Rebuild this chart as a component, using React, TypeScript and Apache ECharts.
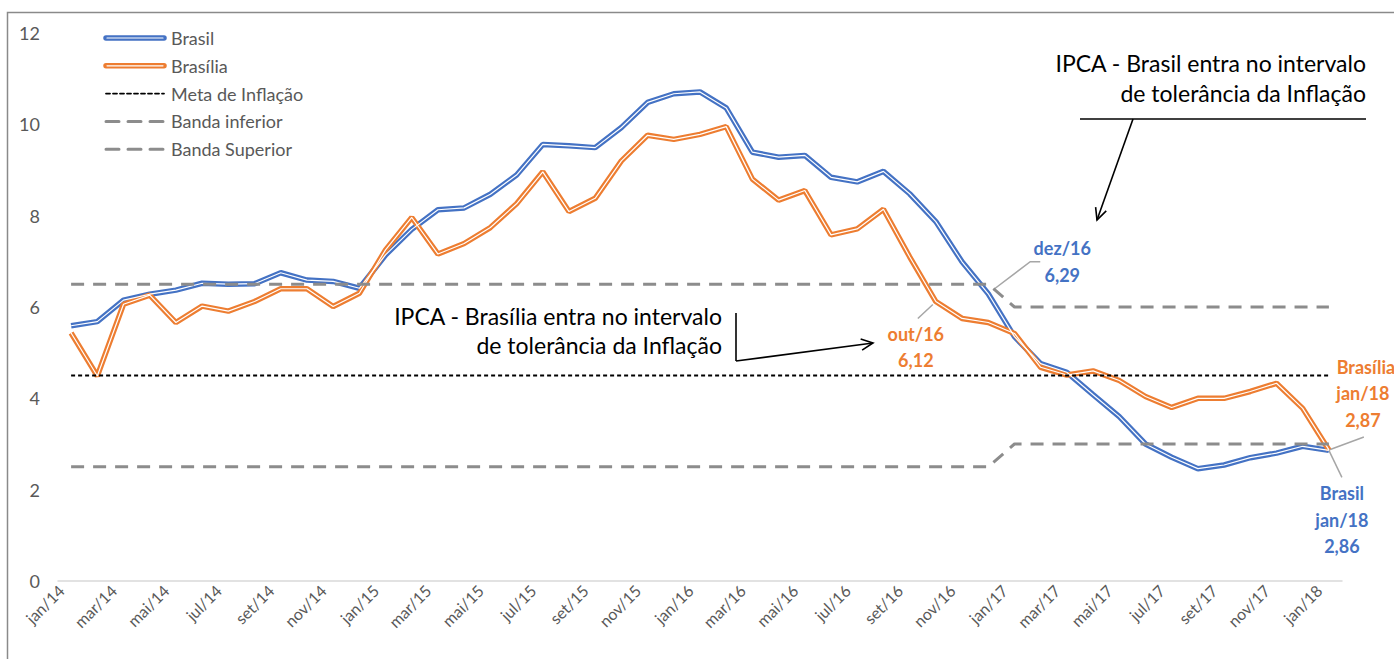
import React, { useEffect, useRef } from 'react';
import * as echarts from 'echarts';

const categories = [
  'jan/14', 'fev/14', 'mar/14', 'abr/14', 'mai/14', 'jun/14', 'jul/14', 'ago/14', 'set/14', 'out/14', 'nov/14', 'dez/14',
  'jan/15', 'fev/15', 'mar/15', 'abr/15', 'mai/15', 'jun/15', 'jul/15', 'ago/15', 'set/15', 'out/15', 'nov/15', 'dez/15',
  'jan/16', 'fev/16', 'mar/16', 'abr/16', 'mai/16', 'jun/16', 'jul/16', 'ago/16', 'set/16', 'out/16', 'nov/16', 'dez/16',
  'jan/17', 'fev/17', 'mar/17', 'abr/17', 'mai/17', 'jun/17', 'jul/17', 'ago/17', 'set/17', 'out/17', 'nov/17', 'dez/17',
  'jan/18',
];

const brasil = [
  5.59, 5.68, 6.15, 6.28, 6.37, 6.52, 6.50, 6.51, 6.75, 6.59, 6.56, 6.41,
  7.14, 7.70, 8.13, 8.17, 8.47, 8.89, 9.56, 9.53, 9.49, 9.93, 10.48, 10.67,
  10.71, 10.36, 9.39, 9.28, 9.32, 8.84, 8.74, 8.97, 8.48, 7.87, 6.99, 6.29,
  5.35, 4.76, 4.57, 4.08, 3.60, 3.00, 2.71, 2.46, 2.54, 2.70, 2.80, 2.95,
  2.86,
];

const brasilia = [
  5.43, 4.49, 6.06, 6.26, 5.66, 6.02, 5.91, 6.12, 6.40, 6.40, 6.01, 6.30,
  7.25, 7.96, 7.16, 7.39, 7.74, 8.26, 8.96, 8.09, 8.38, 9.20, 9.76, 9.67,
  9.78, 9.95, 8.80, 8.34, 8.55, 7.58, 7.71, 8.14, 7.10, 6.12, 5.75, 5.66,
  5.42, 4.68, 4.51, 4.60, 4.39, 4.04, 3.80, 4.00, 4.00, 4.15, 4.33, 3.78,
  2.87,
];

const metaInflacao = [
  4.5, 4.5, 4.5, 4.5, 4.5, 4.5, 4.5, 4.5, 4.5, 4.5, 4.5, 4.5,
  4.5, 4.5, 4.5, 4.5, 4.5, 4.5, 4.5, 4.5, 4.5, 4.5, 4.5, 4.5,
  4.5, 4.5, 4.5, 4.5, 4.5, 4.5, 4.5, 4.5, 4.5, 4.5, 4.5, 4.5,
  4.5, 4.5, 4.5, 4.5, 4.5, 4.5, 4.5, 4.5, 4.5, 4.5, 4.5, 4.5,
  4.5,
];

const bandaInferior = [
  2.5, 2.5, 2.5, 2.5, 2.5, 2.5, 2.5, 2.5, 2.5, 2.5, 2.5, 2.5,
  2.5, 2.5, 2.5, 2.5, 2.5, 2.5, 2.5, 2.5, 2.5, 2.5, 2.5, 2.5,
  2.5, 2.5, 2.5, 2.5, 2.5, 2.5, 2.5, 2.5, 2.5, 2.5, 2.5, 2.5,
  3.0, 3.0, 3.0, 3.0, 3.0, 3.0, 3.0, 3.0, 3.0, 3.0, 3.0, 3.0,
  3.0,
];

const bandaSuperior = [
  6.5, 6.5, 6.5, 6.5, 6.5, 6.5, 6.5, 6.5, 6.5, 6.5, 6.5, 6.5,
  6.5, 6.5, 6.5, 6.5, 6.5, 6.5, 6.5, 6.5, 6.5, 6.5, 6.5, 6.5,
  6.5, 6.5, 6.5, 6.5, 6.5, 6.5, 6.5, 6.5, 6.5, 6.5, 6.5, 6.5,
  6.0, 6.0, 6.0, 6.0, 6.0, 6.0, 6.0, 6.0, 6.0, 6.0, 6.0, 6.0,
  6.0,
];

const legendNames = ['Brasil', 'Brasília', 'Meta de Inflação', 'Banda inferior', 'Banda Superior'];

const yTicks = { min: 0, max: 12, interval: 2 };

const BLUE = '#4472C4';
const ORANGE = '#ED7D31';
const GRAY = '#595959';
const BAND = '#8c8c8c';
const FONT = 'Lato, "Open Sans", sans-serif';

const mainStyle = (color: string) => ({ color, width: 5.5 });
const whiteStyle = { color: '#ffffff', width: 1.2 };
const metaStyle = { color: '#000000', width: 1.8, type: [4, 3] };
const bandStyle = { color: BAND, width: 3, type: [13, 9] };

function arrow(x1: number, y1: number, x2: number, y2: number, color: string) {
  const th = Math.atan2(y2 - y1, x2 - x1);
  const len = 13;
  const a = Math.PI / 7;
  return [
    { type: 'line', shape: { x1, y1, x2, y2 }, style: { stroke: color, lineWidth: 1.6 }, silent: true },
    {
      type: 'polyline',
      shape: {
        points: [
          [x2 - len * Math.cos(th - a), y2 - len * Math.sin(th - a)],
          [x2, y2],
          [x2 - len * Math.cos(th + a), y2 - len * Math.sin(th + a)],
        ],
      },
      style: { stroke: color, lineWidth: 1.6, fill: null },
      silent: true,
    },
  ];
}

function txt(x: number, y: number, text: string, font: string, fill: string, align = 'center') {
  return {
    type: 'text',
    x,
    y,
    silent: true,
    style: { text, font, fill, textAlign: align, textVerticalAlign: 'middle' },
  };
}

function lineEl(x1: number, y1: number, x2: number, y2: number, ls: any) {
  return {
    type: 'line',
    shape: { x1, y1, x2, y2 },
    style: { stroke: ls.color, lineWidth: ls.width, lineDash: ls.type || null, lineCap: 'round' },
    silent: true,
  };
}

export default function App() {
  const ref = useRef<HTMLDivElement>(null);

  useEffect(() => {
    document.body.style.margin = '0';
    const chart = echarts.init(ref.current!, null, { renderer: 'svg' });

    const mainLine = (name: string, data: number[], color: string) => ({
      name,
      type: 'line',
      data,
      symbol: 'none',
      lineStyle: mainStyle(color),
      itemStyle: { color },
      z: 2,
    });
    const whiteLine = (name: string, data: number[]) => ({
      name,
      type: 'line',
      data,
      symbol: 'none',
      lineStyle: whiteStyle,
      itemStyle: { color: '#ffffff' },
      z: 3,
    });

    chart.setOption({
      animation: false,
      grid: { left: 58, right: 52, top: 33, bottom: 78, containLabel: false },
      xAxis: {
        type: 'category',
        data: categories,
        boundaryGap: true,
        axisLine: { lineStyle: { color: '#d9d9d9', width: 1.5 } },
        axisTick: { interval: 1, length: 5, lineStyle: { color: '#d9d9d9', width: 1.5 } },
        axisLabel: {
          interval: 1,
          rotate: 45,
          margin: 8,
          verticalAlign: 'bottom',
          padding: [0, 6, 0, 0],
          color: GRAY,
          fontSize: 16,
          fontFamily: FONT,
        },
        splitLine: { show: false },
      },
      yAxis: {
        type: 'value',
        min: yTicks.min,
        max: yTicks.max,
        interval: yTicks.interval,
        axisLine: { show: false },
        axisTick: { show: false },
        splitLine: { show: false },
        axisLabel: { color: GRAY, fontSize: 18, fontFamily: FONT, margin: 18 },
      },
      series: [
        mainLine(legendNames[0], brasil, BLUE),
        whiteLine('Brasil_w', brasil),
        mainLine(legendNames[1], brasilia, ORANGE),
        whiteLine('Brasília_w', brasilia),
        {
          name: legendNames[2],
          type: 'line',
          data: metaInflacao,
          symbol: 'none',
          lineStyle: metaStyle,
          itemStyle: { color: '#000000' },
          z: 4,
        },
        {
          name: legendNames[3],
          type: 'line',
          data: bandaInferior,
          symbol: 'none',
          lineStyle: bandStyle,
          itemStyle: { color: BAND },
          z: 4,
        },
        {
          name: legendNames[4],
          type: 'line',
          data: bandaSuperior,
          symbol: 'none',
          lineStyle: bandStyle,
          itemStyle: { color: BAND },
          z: 4,
        },
      ],
    });

    const px = (i: number, v: number) => chart.convertToPixel({ gridIndex: 0 }, [categories[i], v]) as number[];
    const iDez16 = categories.indexOf('dez/16');
    const iOut16 = categories.indexOf('out/16');
    const iJan18 = categories.indexOf('jan/18');
    const pDez = px(iDez16, brasil[iDez16]);
    const pOut = px(iOut16, brasilia[iOut16]);
    const pBsb = px(iJan18, brasilia[iJan18]);
    const pBr = px(iJan18, brasil[iJan18]);

    const lead = '#a6a6a6';
    const bold = 'bold 18px ' + FONT;
    const ann = '23px ' + FONT;
    const legFont = '18px ' + FONT;

    // legend (drawn manually to reproduce the double lines)
    const legX1 = 106;
    const legX2 = 164;
    const legY0 = 38;
    const legStep = 27.8;
    const legendEls: any[] = [];
    const legStyles = [mainStyle(BLUE), mainStyle(ORANGE), metaStyle, bandStyle, bandStyle];
    legendNames.forEach((n, k) => {
      const y = legY0 + k * legStep;
      legendEls.push(lineEl(legX1, y, legX2, y, legStyles[k]));
      if (k < 2) legendEls.push(lineEl(legX1 + 1, y, legX2 - 1, y, whiteStyle));
      legendEls.push(txt(legX2 + 7, y, n, legFont, GRAY, 'left'));
    });

    const elements: any[] = [
      {
        type: 'rect',
        shape: { x: 7.5, y: 12.5, width: 1500, height: 800 },
        style: { fill: null, stroke: '#8a8a8a', lineWidth: 1.5 },
        silent: true,
        z: -10,
      },
      ...legendEls,
      // Brasil annotation
      txt(1366, 63, 'IPCA - Brasil entra no intervalo', ann, '#000000', 'right'),
      txt(1366, 93, 'de tolerância da Inflação', ann, '#000000', 'right'),
      { type: 'line', shape: { x1: 1080, y1: 119, x2: 1366, y2: 119 }, style: { stroke: '#000', lineWidth: 1.6 }, silent: true },
      ...arrow(1133, 119, 1097, 220, '#000000'),
      // Brasília annotation
      txt(722, 316, 'IPCA - Brasília entra no intervalo', ann, '#000000', 'right'),
      txt(722, 345, 'de tolerância da Inflação', ann, '#000000', 'right'),
      { type: 'line', shape: { x1: 736, y1: 313, x2: 736, y2: 361 }, style: { stroke: '#000', lineWidth: 1.6 }, silent: true },
      ...arrow(736, 361, 873, 343, '#000000'),
      // dez/16
      {
        type: 'polyline',
        shape: { points: [[pDez[0] + 5, pDez[1] - 4], [pDez[0] + 42, pDez[1] - 32], [pDez[0] + 52, pDez[1] - 32]] },
        style: { stroke: lead, lineWidth: 1.5, fill: null },
        silent: true,
      },
      txt(pDez[0] + 74, pDez[1] - 46, 'dez/16', bold, BLUE),
      txt(pDez[0] + 74, pDez[1] - 19, '6,29', bold, BLUE),
      // out/16
      {
        type: 'line',
        shape: { x1: pOut[0] - 3, y1: pOut[1] + 3, x2: pOut[0] - 18, y2: pOut[1] + 17 },
        style: { stroke: lead, lineWidth: 1.5 },
        silent: true,
      },
      txt(pOut[0] - 20, pOut[1] + 32, 'out/16', bold, ORANGE),
      txt(pOut[0] - 20, pOut[1] + 58, '6,12', bold, ORANGE),
      // Brasília jan/18
      {
        type: 'line',
        shape: { x1: pBsb[0], y1: pBsb[1], x2: pBsb[0] + 35, y2: pBsb[1] - 13 },
        style: { stroke: lead, lineWidth: 1.5 },
        silent: true,
      },
      txt(pBsb[0] + 37, pBsb[1] - 83, 'Brasília', bold, ORANGE),
      txt(pBsb[0] + 34, pBsb[1] - 57, 'jan/18', bold, ORANGE),
      txt(pBsb[0] + 34, pBsb[1] - 30, '2,87', bold, ORANGE),
      // Brasil jan/18
      {
        type: 'line',
        shape: { x1: pBr[0], y1: pBr[1], x2: pBr[0] + 13, y2: pBr[1] + 27 },
        style: { stroke: lead, lineWidth: 1.5 },
        silent: true,
      },
      txt(pBr[0] + 13, pBr[1] + 43, 'Brasil', bold, BLUE),
      txt(pBr[0] + 13, pBr[1] + 70, 'jan/18', bold, BLUE),
      txt(pBr[0] + 13, pBr[1] + 96, '2,86', bold, BLUE),
    ];

    chart.setOption({ graphic: { elements } });

    return () => chart.dispose();
  }, []);

  return <div ref={ref} style={{ width: 1394, height: 659 }} />;
}
